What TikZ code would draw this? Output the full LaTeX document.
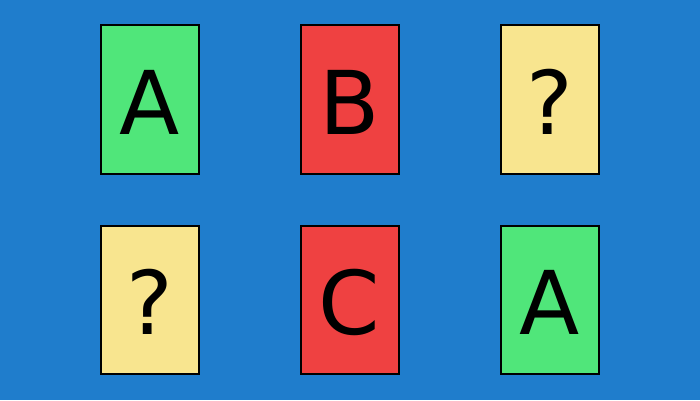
\documentclass[tikz,border=0pt]{standalone}
\usepackage{fontspec}
\setmainfont{DejaVu Sans}
\definecolor{bgblue}{RGB}{31,125,204}
\definecolor{cardgreen}{RGB}{80,230,122}
\definecolor{cardred}{RGB}{239,65,65}
\definecolor{cardyellow}{RGB}{248,229,143}
\tikzset{
  card/.style={draw=black, line width=2pt, minimum width=98pt, minimum height=148pt,
    inner sep=0pt, text height=69pt, text depth=0pt, font=\fontsize{88}{88}\selectfont},
  greencard/.style={card, fill=cardgreen},
  redcard/.style={card, fill=cardred},
  yellowcard/.style={card, fill=cardyellow}
}
\begin{document}
\begin{tikzpicture}[x=1pt,y=1pt]
\fill[bgblue] (0,0) rectangle (700,400);
\useasboundingbox (0,0) rectangle (700,400);
\node[greencard] (c1) at (149.5,300.5) {A};
\node[redcard] (c2) at (349.5,300.5) {B};
\node[yellowcard] (c3) at (549.5,300.5) {?};
\node[yellowcard] (c4) at (149.5,100.5) {?};
\node[redcard] (c5) at (349.5,100.5) {C};
\node[greencard] (c6) at (549.5,100.5) {A};
\end{tikzpicture}
\end{document}
